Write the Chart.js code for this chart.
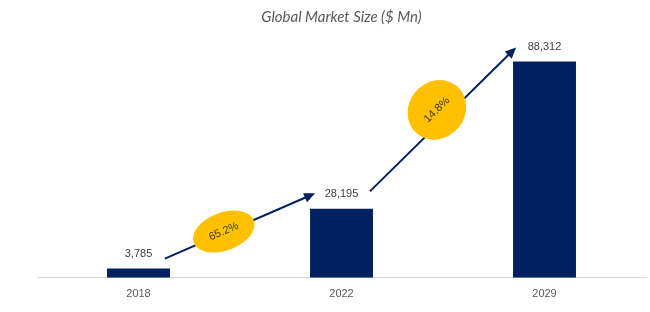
<!DOCTYPE html>
<html lang="en">

<head>
    <meta charset="UTF-8">
    <title>Global Market Size</title>
    <script src="https://cdn.jsdelivr.net/npm/chart.js"></script>
    <style>
        html, body { margin: 0; padding: 0; background: #ffffff; }
        .chart-box { width: 650px; height: 312px; }
    </style>
</head>

<body>
    <div class="chart-box">
        <canvas id="marketChart"></canvas>
    </div>

    <script>
        // chart data
        const years = ['2018', '2022', '2029'];
        const marketSize = [3785, 28195, 88312];
        const growthRates = ['65.2%', '14.8%'];

        // growth arrows, placed in data units (category index, value)
        const arrows = [
            { from: [0.13, 7800], to: [0.87, 34500], badge: [0.42, 18900], rx: 32, ry: 19, rot: -20 },
            { from: [1.14, 35300], to: [1.86, 94100], badge: [1.47, 68600], rx: 31, ry: 28, rot: -50 }
        ];

        const navy = '#002060';

        // value labels above bars
        const valueLabels = {
            id: 'valueLabels',
            afterDatasetsDraw(chart) {
                const ctx = chart.ctx;
                const meta = chart.getDatasetMeta(0);
                ctx.save();
                ctx.font = '11px "Liberation Sans", Arial, sans-serif';
                ctx.fillStyle = '#404040';
                ctx.textAlign = 'center';
                ctx.textBaseline = 'middle';
                meta.data.forEach((bar, i) => {
                    ctx.fillText(marketSize[i].toLocaleString('en-US'), bar.x, bar.y - 15);
                });
                ctx.restore();
            }
        };

        // arrows + yellow growth badges
        const growthArrows = {
            id: 'growthArrows',
            afterDatasetsDraw(chart) {
                const ctx = chart.ctx;
                const xs = chart.scales.x;
                const ys = chart.scales.y;
                ctx.save();
                arrows.forEach((a, i) => {
                    const x1 = xs.getPixelForValue(a.from[0]);
                    const y1 = ys.getPixelForValue(a.from[1]);
                    const x2 = xs.getPixelForValue(a.to[0]);
                    const y2 = ys.getPixelForValue(a.to[1]);
                    const ang = Math.atan2(y2 - y1, x2 - x1);

                    // line
                    ctx.strokeStyle = navy;
                    ctx.lineWidth = 2;
                    ctx.beginPath();
                    ctx.moveTo(x1, y1);
                    ctx.lineTo(x2 - 8 * Math.cos(ang), y2 - 8 * Math.sin(ang));
                    ctx.stroke();

                    // head
                    ctx.fillStyle = navy;
                    ctx.beginPath();
                    ctx.moveTo(x2, y2);
                    ctx.lineTo(x2 - 11 * Math.cos(ang) + 5 * Math.sin(ang), y2 - 11 * Math.sin(ang) - 5 * Math.cos(ang));
                    ctx.lineTo(x2 - 11 * Math.cos(ang) - 5 * Math.sin(ang), y2 - 11 * Math.sin(ang) + 5 * Math.cos(ang));
                    ctx.closePath();
                    ctx.fill();

                    // badge
                    const bx = xs.getPixelForValue(a.badge[0]);
                    const by = ys.getPixelForValue(a.badge[1]);
                    ctx.fillStyle = '#FFC000';
                    ctx.beginPath();
                    ctx.ellipse(bx, by, a.rx, a.ry, a.rot * Math.PI / 180, 0, Math.PI * 2);
                    ctx.fill();

                    ctx.save();
                    ctx.translate(bx, by);
                    ctx.rotate(ang);
                    ctx.font = '11px "Liberation Sans", Arial, sans-serif';
                    ctx.fillStyle = '#3b3b1f';
                    ctx.textAlign = 'center';
                    ctx.textBaseline = 'middle';
                    ctx.fillText(growthRates[i], 0, 0);
                    ctx.restore();
                });
                ctx.restore();
            }
        };

        const ctx = document.getElementById('marketChart').getContext('2d');
        const marketChart = new Chart(ctx, {
            type: 'bar',
            data: {
                labels: years,
                datasets: [
                    {
                        label: 'Global Market Size',
                        data: marketSize,
                        backgroundColor: navy,
                        barPercentage: 0.31,
                        categoryPercentage: 1
                    }
                ]
            },
            options: {
                responsive: true,
                maintainAspectRatio: false,
                animation: false,
                layout: {
                    padding: { left: 37, right: 4, top: 0, bottom: 1 }
                },
                plugins: {
                    legend: { display: false },
                    tooltip: { enabled: false },
                    title: {
                        display: true,
                        text: 'Global Market Size ($ Mn)',
                        color: '#595959',
                        font: { family: 'Lato, "DejaVu Sans", sans-serif', size: 15, style: 'italic', weight: 'normal' },
                        padding: { top: 8, bottom: 7 }
                    }
                },
                scales: {
                    x: {
                        grid: { display: false, drawTicks: false },
                        border: { display: true, color: '#d9d9d9', width: 1 },
                        ticks: {
                            color: '#595959',
                            padding: 10,
                            font: { family: '"Liberation Sans", Arial, sans-serif', size: 11 }
                        }
                    },
                    y: {
                        display: false,
                        min: 0,
                        max: 100000
                    }
                }
            },
            plugins: [valueLabels, growthArrows]
        });
    </script>
</body>

</html>
